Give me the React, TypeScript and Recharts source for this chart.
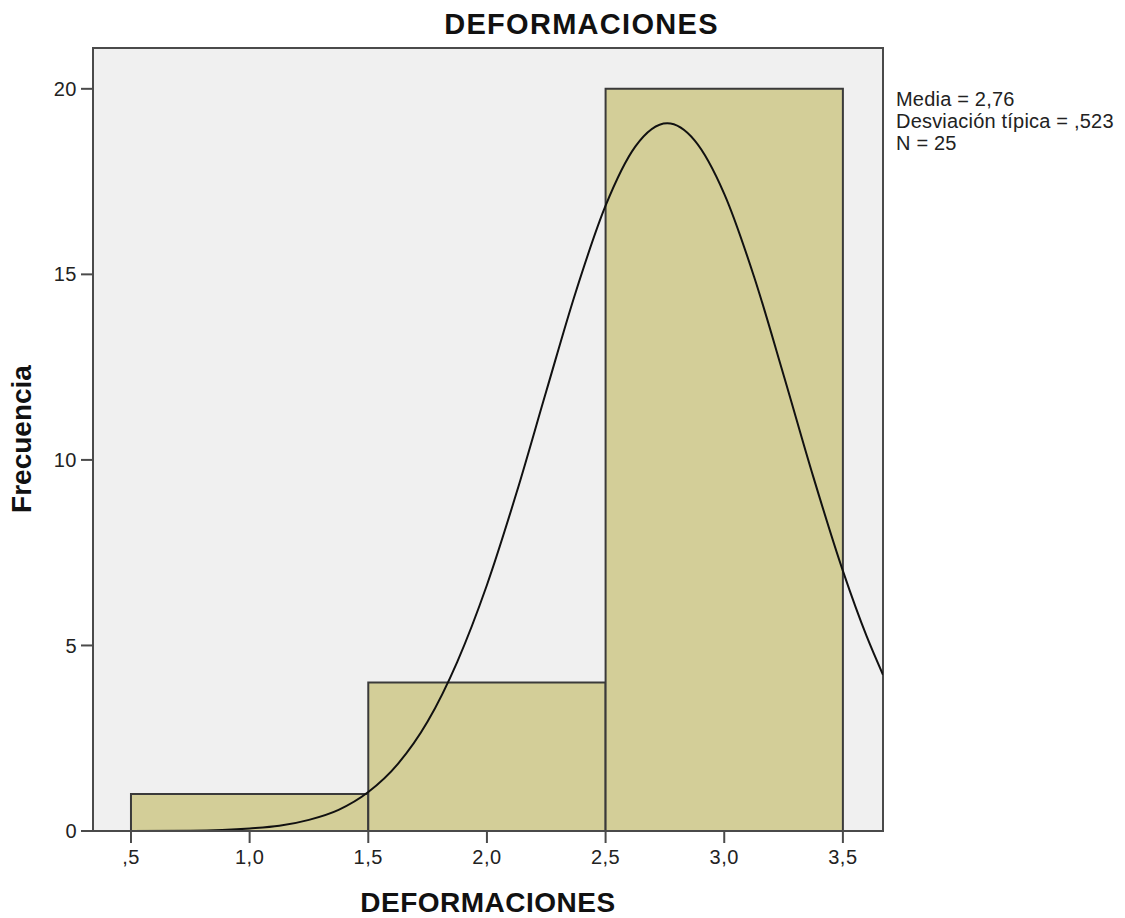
import { ComposedChart, CartesianGrid, Line, ReferenceArea, XAxis, YAxis } from "recharts";

// histogram bins (DEFORMACIONES)
const binStart = [0.5, 1.5, 2.5];
const binEnd = [1.5, 2.5, 3.5];
const binCount = [1, 4, 20];

// fitted normal curve
const curveX = [0.34, 0.5, 0.75, 1.0, 1.125, 1.25, 1.375, 1.5, 1.625, 1.75, 1.875, 2.0, 2.125, 2.25, 2.375, 2.5, 2.625, 2.76, 2.875, 3.0, 3.125, 3.25, 3.375, 3.5, 3.6, 3.669];
const curveY = [0.0, 0.0, 0.01, 0.07, 0.14, 0.3, 0.57, 1.05, 1.81, 2.95, 4.56, 6.63, 9.12, 11.85, 14.54, 16.85, 18.44, 19.07, 18.61, 17.17, 14.95, 12.29, 9.55, 7.01, 5.25, 4.21];

const xTicks = [0.5, 1.0, 1.5, 2.0, 2.5, 3.0, 3.5];
const yTicks = [0, 5, 10, 15, 20];
const stats = ["Media = 2,76", "Desviación típica = ,523", "N = 25"];

const X_DOMAIN: [number, number] = [0.34, 3.669];
const Y_DOMAIN: [number, number] = [0, 21.1];

const FONT = "'Liberation Sans', Arial, sans-serif";
const FRAME = "#4a4a4a";

const fmtX = (v: number) => {
  const s = v.toFixed(1).replace(".", ",");
  return s.startsWith("0") ? s.slice(1) : s;
};

export default function App() {
  const curve = curveX.map((x, i) => ({ x, y: curveY[i] }));
  const tickStyle = { fontSize: 20, fill: "#222", fontFamily: FONT, letterSpacing: 0.5 };
  return (
    <div style={{ position: "relative", width: 1109, height: 910, fontFamily: FONT }}>
      <ComposedChart width={1109} height={902} data={curve} margin={{ top: 40, right: 234, bottom: 9, left: 25 }}>
        <CartesianGrid horizontal={false} vertical={false} fill="#f0f0f0" />
        <XAxis
          type="number"
          dataKey="x"
          domain={X_DOMAIN}
          ticks={xTicks}
          tickFormatter={fmtX}
          allowDataOverflow
          height={70}
          tickSize={12}
          tickMargin={7}
          stroke={FRAME}
          strokeWidth={2}
          tick={tickStyle}
        />
        <YAxis
          type="number"
          domain={Y_DOMAIN}
          ticks={yTicks}
          allowDataOverflow
          width={60}
          tickSize={12}
          tickMargin={4}
          stroke={FRAME}
          strokeWidth={2}
          tick={tickStyle}
        />
        {binCount.map((c, i) => (
          <ReferenceArea
            key={i}
            x1={binStart[i]}
            x2={binEnd[i]}
            y1={0}
            y2={c}
            fill="#d3ce98"
            fillOpacity={1}
            stroke="#3a3a3a"
            strokeWidth={2}
          />
        ))}
        <Line isAnimationActive={false} type="monotone" dataKey="y" stroke="#111" strokeWidth={2} dot={false} activeDot={false} />
        <ReferenceArea x1={X_DOMAIN[0]} x2={X_DOMAIN[1]} y1={Y_DOMAIN[0]} y2={Y_DOMAIN[1]} fill="none" stroke={FRAME} strokeWidth={2} />
      </ComposedChart>
      <div style={{ position: "absolute", left: 0, width: 1147, top: 0, textAlign: "center", fontSize: 29, fontWeight: "bold", letterSpacing: 1.3, color: "#111" }}>
        DEFORMACIONES
      </div>
      <div
        style={{
          position: "absolute",
          left: 0,
          width: 960,
          top: 881,
          textAlign: "center",
          fontSize: 28,
          lineHeight: "28px",
          fontWeight: "bold",
          letterSpacing: 0.5,
          color: "#111",
        }}
      >
        DEFORMACIONES
      </div>
      <div
        style={{
          position: "absolute",
          left: 14 - 100,
          top: 432 - 17,
          width: 200,
          textAlign: "center",
          fontSize: 28,
          fontWeight: "bold",
          color: "#111",
          transform: "rotate(-90deg)",
        }}
      >
        Frecuencia
      </div>
      <div style={{ position: "absolute", left: 888, top: 80, fontSize: 20, lineHeight: "22px", letterSpacing: 0.2, color: "#222" }}>
        {stats.map((s) => (
          <div key={s}>{s}</div>
        ))}
      </div>
    </div>
  );
}
